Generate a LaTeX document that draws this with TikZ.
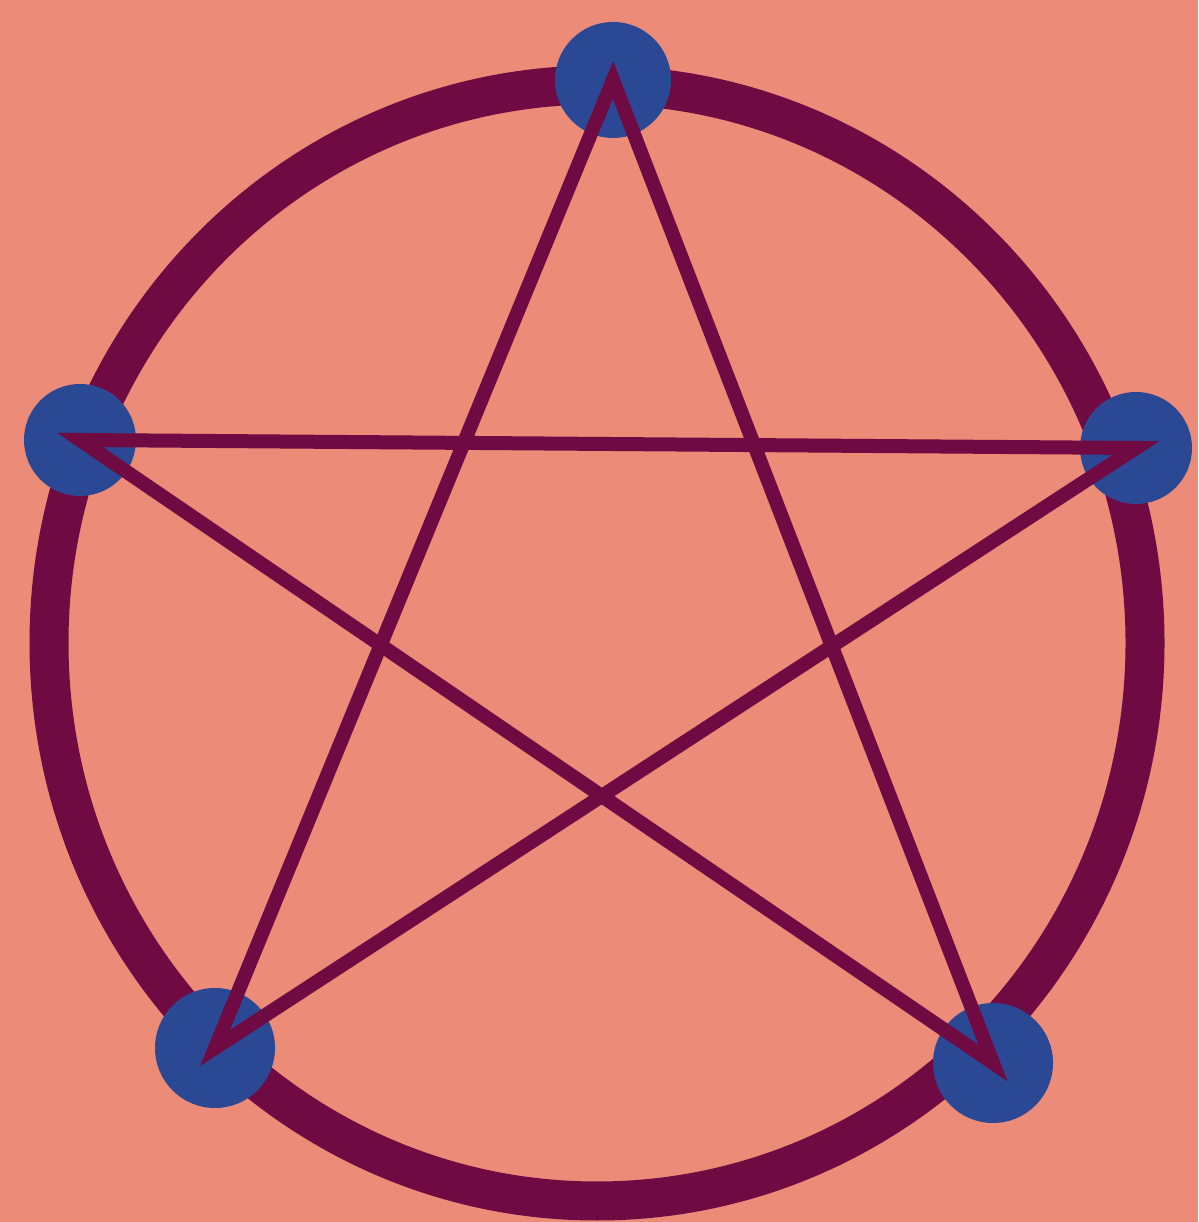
\documentclass[tikz,border=0pt]{standalone}
\usetikzlibrary{positioning}

\definecolor{salmon}{HTML}{EC8B78}
\definecolor{plum}{HTML}{700A42}
\definecolor{dotblue}{HTML}{2B4894}

\begin{document}
\begin{tikzpicture}[
  ring/.style={draw=plum, line width=0.39cm},
  vertex/.style={circle, fill=dotblue, inner sep=0pt, minimum size=1.16cm},
  starline/.style={draw=plum, line width=0.14cm, line join=miter}
]
  % Hintergrund
  \fill[salmon] (0,0) rectangle (11.98,12.22);
  \useasboundingbox (0,0) rectangle (11.98,12.22);

  % Kreis
  \draw[ring] (5.97,5.79) ellipse [x radius=5.48cm, y radius=5.58cm];

  % Punkte
  \node[vertex] (top) at (6.13,11.42) {};
  \node[vertex, minimum size=1.12cm] (left) at (0.80,7.82) {};
  \node[vertex, minimum size=1.12cm] (right) at (11.36,7.74) {};
  \node[vertex, minimum size=1.2cm] (bl) at (2.15,1.74) {};
  \node[vertex, minimum size=1.2cm] (br) at (9.93,1.59) {};

  % Stern
  \draw[starline] (top.center) -- (bl.center) -- (right.center)
    -- (left.center) -- (br.center) -- cycle;
\end{tikzpicture}
\end{document}
